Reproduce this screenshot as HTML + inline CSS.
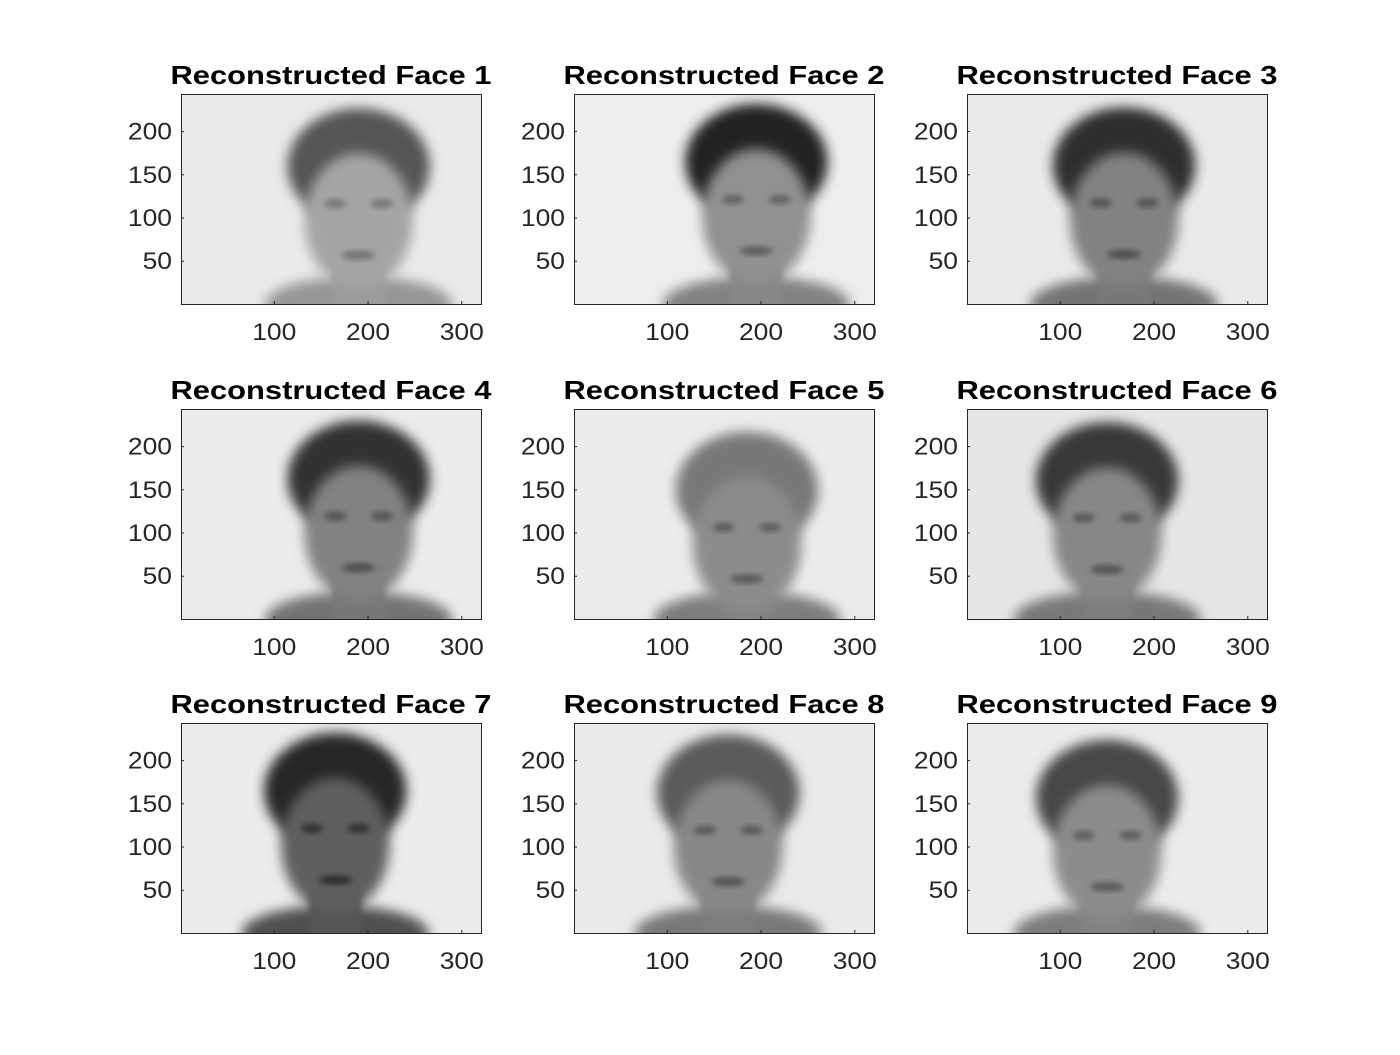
<!DOCTYPE html>
<html><head><meta charset="utf-8">
<style>
html,body{margin:0;padding:0;background:#fff;}
body{width:1400px;height:1050px;position:relative;overflow:hidden;font-family:"Liberation Sans",sans-serif;}
svg text{font-family:"Liberation Sans",sans-serif;}
</style></head>
<body>
<svg id="fig" width="1400" height="1050">
<defs>
<filter id="bl" x="-30%" y="-30%" width="160%" height="160%"><feGaussianBlur stdDeviation="6"/></filter>
<filter id="bl2" x="-30%" y="-30%" width="160%" height="160%"><feGaussianBlur stdDeviation="3"/></filter>
</defs>
</svg>
<script>
// data
const titles=["Reconstructed Face 1","Reconstructed Face 2","Reconstructed Face 3","Reconstructed Face 4","Reconstructed Face 5","Reconstructed Face 6","Reconstructed Face 7","Reconstructed Face 8","Reconstructed Face 9"];
const xTicks=[100,200,300];
const yTicks=[50,100,150,200];
const xRange=[0.5,320.5];
const yRange=[0.5,243.5];
// face centre x (image px), hair top (image y), hair tone, face tone
const faceCx=[190,195,168,190,185,150,165,165,150];
const hairTop=[225,230,226,228,215,226,230,228,222];
const hairTone=[85,35,45,50,120,55,40,90,70];
const faceTone=[165,145,130,130,140,135,95,135,140];
const bgTone=[234,238,234,236,236,230,236,234,236];

const svg=document.getElementById('fig');
const NS='http://www.w3.org/2000/svg';
function mk(t,a,p){const e=document.createElementNS(NS,t);for(const k in a)e.setAttribute(k,a[k]);(p||svg).appendChild(e);return e;}
const colX=[181,574,967], rowY=[94,409,723], W=300, H=210;
function g(v){return `rgb(${v},${v},${v})`;}
for(let i=0;i<9;i++){
  const ox=colX[i%3], oy=rowY[Math.floor(i/3)];
  const sx=v=>ox+(v-xRange[0])/(xRange[1]-xRange[0])*W;
  const sy=v=>oy+H-(v-yRange[0])/(yRange[1]-yRange[0])*H;
  const sc=W/(xRange[1]-xRange[0]);
  const grp=mk('g',{});
  
  
  const cid='c'+i;
  const cp=mk('clipPath',{id:cid},grp);mk('rect',{x:ox,y:oy,width:W,height:H},cp);
  const img=mk('g',{'clip-path':`url(#${cid})`},grp);
  
  
  mk('rect',{x:ox,y:oy,width:W,height:H,fill:g(bgTone[i])},img);
  const cx=sx(faceCx[i]), top=sy(hairTop[i]);
  mk('ellipse',{cx:cx,cy:sy(0),rx:100*sc,ry:30*sc,fill:g(Math.min(faceTone[i]-15,170)),filter:'url(#bl)'},img);
  mk('ellipse',{cx:cx,cy:top+60*sc,rx:76*sc,ry:62*sc,fill:g(hairTone[i]),filter:'url(#bl)'},img);
  mk('rect',{x:cx-28*sc,y:sy(50),width:56*sc,height:50*sc,fill:g(faceTone[i]-10),filter:'url(#bl2)'},img);
  mk('ellipse',{cx:cx,cy:top+118*sc,rx:58*sc,ry:72*sc,fill:g(faceTone[i]),filter:'url(#bl)'},img);
  mk('ellipse',{cx:cx-25*sc,cy:top+100*sc,rx:12*sc,ry:5*sc,fill:g(faceTone[i]-45),filter:'url(#bl2)'},img);
  mk('ellipse',{cx:cx+25*sc,cy:top+100*sc,rx:12*sc,ry:5*sc,fill:g(faceTone[i]-45),filter:'url(#bl2)'},img);
  mk('ellipse',{cx:cx,cy:top+155*sc,rx:18*sc,ry:5*sc,fill:g(faceTone[i]-50),filter:'url(#bl2)'},img);
  const box=mk('rect',{x:ox+0.5,y:oy+0.5,width:W,height:H,fill:'none',stroke:'#262626','stroke-width':1},grp);
  
  
  xTicks.forEach(t=>{
    const x=sx(t);
    mk('line',{x1:x,x2:x,y1:oy+H,y2:oy+H-3,stroke:'#262626'},grp);
    const tx=mk('text',{x:x,y:oy+H+36,'text-anchor':'middle','font-size':24,fill:'#262626',textLength:String(t).length*14.7,lengthAdjust:'spacingAndGlyphs'},grp);
    tx.textContent=t;
    
    
  });
  yTicks.forEach(t=>{
    const y=sy(t);
    mk('line',{x1:ox,x2:ox+3,y1:y,y2:y,stroke:'#262626'},grp);
    const tx=mk('text',{x:ox-9,y:y+8,'text-anchor':'end','font-size':24,fill:'#262626',textLength:String(t).length*14.7,lengthAdjust:'spacingAndGlyphs'},grp);
    tx.textContent=t;
    
    
  });
  const tt=mk('text',{x:ox+W/2,y:oy-10,'text-anchor':'middle','font-size':26,'font-weight':'bold',fill:'#000',textLength:321,lengthAdjust:'spacingAndGlyphs'},grp);
  tt.textContent=titles[i];
  
  
}
</script>
</body></html>
